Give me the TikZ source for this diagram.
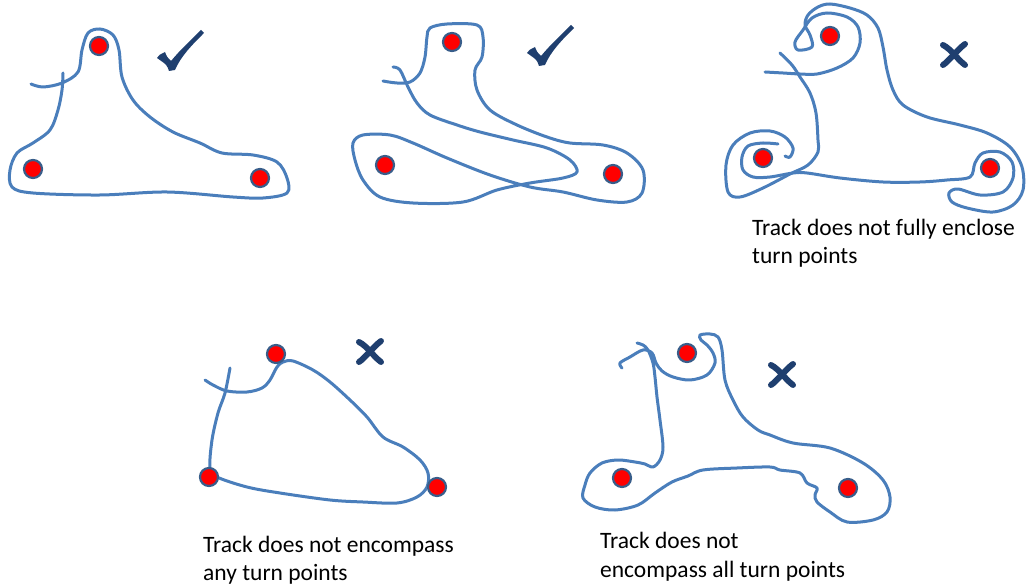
\documentclass[tikz,border=0pt]{standalone}
\usepackage{fontspec}
\setmainfont{Carlito}
\definecolor{trackblue}{HTML}{4A7EBB}
\definecolor{dotrim}{HTML}{385D8A}
\definecolor{marknavy}{HTML}{1F3F6F}
\tikzset{
  track/.style={draw=trackblue, line width=3pt, line cap=round, line join=round},
  turnpt/.style={circle, fill=red, draw=dotrim, line width=2.2pt, minimum size=18pt, inner sep=0pt},
  caption/.style={anchor=base west, inner sep=0pt, font=\fontsize{23.5}{28}\selectfont},
  crossstroke/.style={draw=marknavy, line width=6pt, line cap=round},
}
\newcommand{\checkmarkat}[1]{%
  \fill[marknavy] (#1) ++(-13,-12) .. controls +(2,-3) .. ++(8,-6)
     .. controls +(2,5) .. ++(6,9) .. controls +(10,-12) and +(-10,10) .. ++(30,-31)
     -- ++(3,3) .. controls +(-12,12) and +(6,-14) .. ++(-29,37)
     -- ++(-6,1) .. controls +(-2,-6) .. cycle;}
\newcommand{\crossat}[1]{%
  \draw[crossstroke] (#1) ++(-11,-10) .. controls +(8,4) and +(-8,-6) .. ++(22,20);
  \draw[crossstroke] (#1) ++(11,-11) .. controls +(-8,6) and +(6,-4) .. ++(-22,21);}
\begin{document}
\begin{tikzpicture}[x=1pt,y=-1pt]
\useasboundingbox (0,0) rectangle (1031,585);

% ---- panel 1
\draw[track] plot[smooth, tension=0.55] coordinates {(31,84) (43,87) (62,83) (78,72) (82,50) (88,33) (100,29) (113,35) (119,50) (122,77) (133,100) (150,117) (173,132) (200,143) (222,153) (253,155) (277,162) (287,178) (287,193) (263,198) (233,197) (167,192) (100,195) (33,193) (12,187) (10,170) (17,153) (33,143) (50,130) (58,110) (62,90) (63,73)};
\node[turnpt] (a1) at (99,46) {};
\node[turnpt] (a2) at (33,169) {};
\node[turnpt] (a3) at (260,178) {};
\checkmarkat{170,70}

% ---- panel 2
\draw[track] plot[smooth, tension=0.55] coordinates {(383,81) (397,83) (410,82) (420,73) (425,57) (427,37) (430,28) (447,24) (477,25) (483,37) (482,57) (475,70) (477,90) (490,110) (517,125) (547,137) (570,143) (603,145) (627,153) (643,170) (642,193) (627,202) (597,200) (563,192) (530,187) (490,175) (447,158) (413,143) (390,135) (363,135) (353,143) (355,160) (363,180) (380,197) (413,203) (463,202) (497,190) (530,183) (563,178) (577,172) (570,160) (547,148) (513,140) (480,132) (457,125) (430,115) (417,103) (408,87) (400,70) (393,67)};
\node[turnpt] (b1) at (452,42) {};
\node[turnpt] (b2) at (385,165) {};
\node[turnpt] (b3) at (613,174) {};
\checkmarkat{540,65}

% ---- panel 3
\draw[track] plot[smooth, tension=0.55] coordinates {(765,72) (783,73) (800,74) (817,74) (837,68) (853,58) (860,43) (858,27) (847,17) (827,13) (812,18) (803,30) (795,42) (798,50) (812,47) (810,35) (805,25) (808,15) (818,7) (830,4) (850,8) (867,15) (878,28) (883,47) (887,70) (893,90) (903,105) (927,117) (960,125) (987,133) (1010,147) (1022,167) (1023,190) (1013,205) (993,212) (967,208) (952,202) (949,193) (958,189) (980,195) (1003,192) (1013,178) (1012,162) (1000,152) (983,153) (975,163) (970,177) (947,180) (920,182) (883,182) (840,178) (807,173) (793,173) (770,177) (753,177) (743,170) (742,157) (748,146) (763,143) (778,144)};
\draw[track] plot[smooth, tension=0.55] coordinates {(780,53) (792,65) (800,77) (810,93) (816,113) (818,140) (818,152) (808,165) (790,174) (763,188) (740,197) (728,192) (726,165) (733,145) (750,133) (770,131) (785,137) (793,148) (790,157) (785,156)};
\node[turnpt] (c1) at (830,36) {};
\node[turnpt] (c2) at (763,158) {};
\node[turnpt] (c3) at (990,168) {};
\crossat{954,55}
\node[caption] (t3a) at (752,236) {Track does not fully enclose};
\node[caption] (t3b) at (752,264) {turn points};

% ---- panel 4
\draw[track] plot[smooth, tension=0.55] coordinates {(205,380) (213,385) (227,391) (247,392) (262,388) (270,380) (277,367) (283,362) (293,361) (313,370) (330,382) (350,400) (367,417) (383,437) (403,447) (420,460) (428,473) (427,487) (417,497) (397,503) (363,502) (330,500) (280,493) (247,487) (217,477) (210,468) (212,440) (218,413) (225,393) (230,368)};
\node[turnpt] (d1) at (276,354) {};
\node[turnpt] (d2) at (209,477) {};
\node[turnpt] (d3) at (437,487) {};
\crossat{370,352}
\node[caption] (t4a) at (203,552) {Track does not encompass};
\node[caption] (t4b) at (203,580) {any turn points};

% ---- panel 5
\draw[track] plot[smooth, tension=0.55] coordinates {(622,368) (620,363) (630,357) (643,350) (652,353) (656,363) (662,371) (673,377) (690,380) (707,375) (715,363) (713,353) (707,345) (701,340) (700,335) (710,334) (718,337) (722,350) (725,380) (733,400) (743,417) (758,430) (770,435) (793,443) (830,448) (863,463) (883,480) (890,497) (887,512) (873,520) (847,522) (830,512) (817,502) (815,495) (817,488) (807,483) (800,473) (780,470) (770,467) (737,468) (703,470) (688,476) (672,482) (655,493) (638,505) (615,510) (595,507) (583,498) (585,485) (590,473) (602,463) (618,460) (635,462) (645,464) (653,467) (660,460) (663,447) (660,420) (657,397) (655,377) (653,363) (648,350) (643,345) (637,343)};
\node[turnpt] (e1) at (687,353) {};
\node[turnpt] (e2) at (622,478) {};
\node[turnpt] (e3) at (848,488) {};
\crossat{782,375}
\node[caption] (t5a) at (600,548) {Track does not};
\node[caption] (t5b) at (600,577) {encompass all turn points};
\end{tikzpicture}
\end{document}
